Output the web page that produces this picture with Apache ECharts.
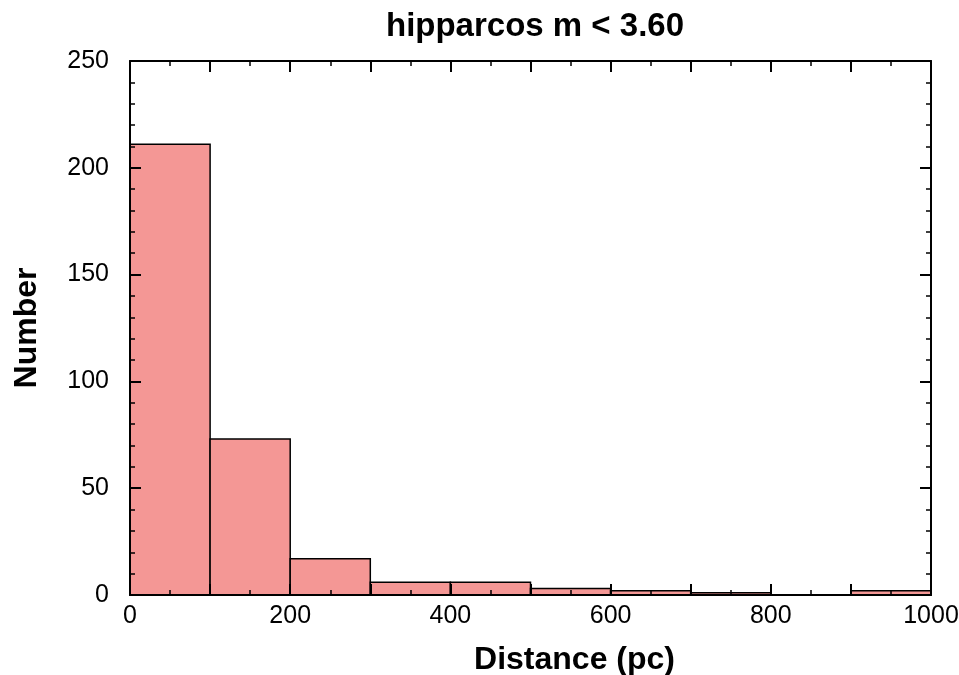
<!DOCTYPE html>
<html>
<head>
<meta charset="utf-8">
<script src="https://cdn.jsdelivr.net/npm/echarts@6/dist/echarts.min.js"></script>
<style>
  html, body { margin: 0; padding: 0; background: #fff; }
  #chart { width: 959px; height: 675px; }
</style>
</head>
<body>
<div id="chart"></div>
<script>
// histogram bins (pc) and counts
var binStarts = [0, 100, 200, 300, 400, 500, 600, 700, 800, 900]
var binWidth = 100
var counts = [211, 73, 17, 6, 6, 3, 2, 1, 0, 2]
var xTickLabels = [0, 200, 400, 600, 800, 1000]
var yTickLabels = [0, 50, 100, 150, 200, 250]

var font = 'Liberation Sans, Arial, Helvetica, sans-serif'

var bins = binStarts.map(function (s, i) {
  return [s, s + binWidth, counts[i]]
})

var myChart = echarts.init(document.getElementById('chart'))

function frameAxis (pos, isX, showLabel) {
  return {
    type: 'value',
    position: pos,
    z: 5,
    min: 0,
    max: isX ? 1000 : 250,
    interval: isX ? 100 : 50,
    axisLine: { show: true, onZero: false, lineStyle: { color: '#000', width: 2 } },
    axisTick: { show: true, inside: true, length: 11, lineStyle: { color: '#000', width: 2 } },
    minorTick: { show: true, splitNumber: isX ? 2 : 5, length: 5, lineStyle: { color: '#000', width: 1.5 } },
    splitLine: { show: false },
    axisLabel: {
      show: showLabel,
      color: '#000',
      fontFamily: font,
      fontSize: 25,
      margin: isX ? 9 : 21,
      formatter: function (v) {
        if (isX) return xTickLabels.indexOf(v) >= 0 ? String(v) : ''
        return yTickLabels.indexOf(v) >= 0 ? String(v) : ''
      }
    }
  }
}

var nameStyle = { color: '#000', fontFamily: font, fontSize: 32, fontWeight: 'bold' }

var xBottom = frameAxis('bottom', true, true)
xBottom.name = 'Distance (pc)'
xBottom.nameLocation = 'middle'
xBottom.nameGap = 49
// the label sits a bit right of the plot centre in the original
xBottom.nameTextStyle = Object.assign({}, nameStyle, { padding: [0, 0, 0, 88] })

var yLeft = frameAxis('left', false, true)
yLeft.name = 'Number'
yLeft.nameLocation = 'middle'
yLeft.nameGap = 87
yLeft.nameTextStyle = nameStyle

var chartOption = {
  animation: false,
  backgroundColor: '#fff',
  title: {
    text: 'hipparcos m < 3.60',
    left: 530,
    textAlign: 'center',
    top: 5,
    textStyle: Object.assign({}, nameStyle, { fontSize: 33 })
  },
  grid: { left: 130, right: 28, top: 61, bottom: 80, containLabel: false, outerBoundsMode: 'none' },
  xAxis: [xBottom, frameAxis('top', true, false)],
  yAxis: [yLeft, frameAxis('right', false, false)],
  series: [
    {
      type: 'custom',
      xAxisIndex: 0,
      yAxisIndex: 0,
      data: bins,
      renderItem: function (params, api) {
        var h = api.value(2)
        if (!h) return null
        var p0 = api.coord([api.value(0), h])
        var p1 = api.coord([api.value(1), 0])
        return {
          type: 'rect',
          shape: { x: p0[0], y: p0[1], width: p1[0] - p0[0], height: p1[1] - p0[1] },
          style: { fill: '#f49795', stroke: '#000', lineWidth: 1.5 }
        }
      }
    }
  ]
}

myChart.setOption(chartOption)
</script>
</body>
</html>
